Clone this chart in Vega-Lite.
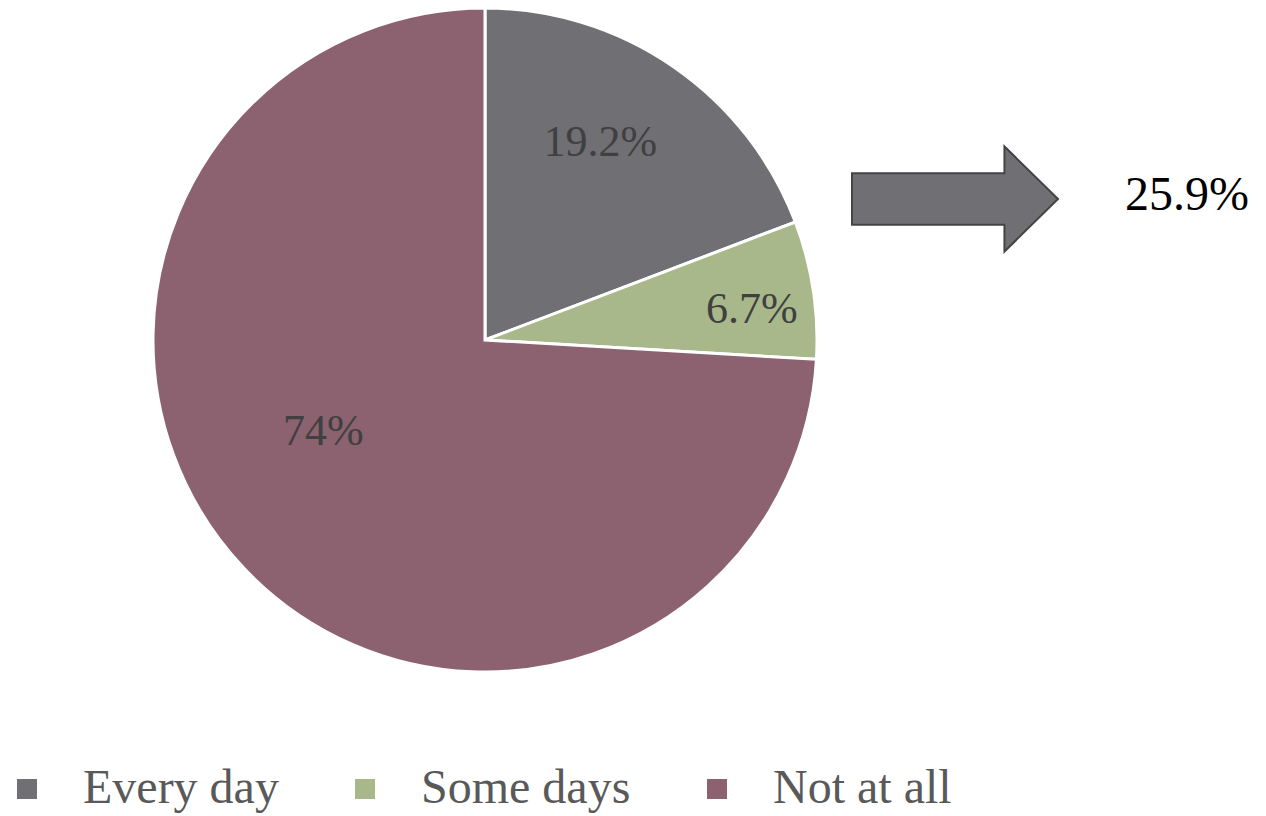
{
  "$schema": "https://vega.github.io/schema/vega-lite/v6.json",
  "width": 970,
  "height": 680,
  "padding": 0,
  "background": "white",
  "config": {"view": {"stroke": null}, "font": "Liberation Serif"},
  "data": {"values": [
    {"status": "Every day", "share": 0.192, "rank": 1},
    {"status": "Some days", "share": 0.067, "rank": 2},
    {"status": "Not at all", "share": 0.74, "rank": 3}
  ]},
  "layer": [
    {
      "mark": {"type": "arc", "radius": 332, "stroke": "white", "strokeWidth": 3},
      "encoding": {
        "theta": {"field": "share", "type": "quantitative", "stack": true},
        "order": {"field": "rank", "type": "quantitative"},
        "color": {
          "field": "status", "type": "nominal",
          "scale": {"domain": ["Every day", "Some days", "Not at all"], "range": ["#706f74", "#a8b88b", "#8c6271"]},
          "legend": {
            "orient": "none", "legendX": 3, "legendY": 765, "direction": "horizontal", "title": null,
            "symbolType": "square", "symbolSize": 400, "symbolStrokeWidth": 0, "symbolOpacity": 1,
            "labelFontSize": 48, "labelFont": "Liberation Serif", "labelColor": "#595959",
            "labelOffset": 32, "columnPadding": 62, "labelLimit": 0
          }
        }
      }
    },
    {
      "mark": {"type": "text", "radius": 228, "dx": -14, "dy": -9, "fontSize": 44, "fill": "#404040", "baseline": "middle", "align": "center"},
      "encoding": {
        "theta": {"field": "share", "type": "quantitative", "stack": true},
        "order": {"field": "rank", "type": "quantitative"},
        "text": {"condition": {"test": "datum.status === 'Every day'", "field": "share", "type": "quantitative", "format": ".3~%"}, "value": ""}
      }
    },
    {
      "mark": {"type": "text", "radius": 270, "dx": 0, "dy": 11, "fontSize": 44, "fill": "#404040", "baseline": "middle", "align": "center"},
      "encoding": {
        "theta": {"field": "share", "type": "quantitative", "stack": true},
        "order": {"field": "rank", "type": "quantitative"},
        "text": {"condition": {"test": "datum.status === 'Some days'", "field": "share", "type": "quantitative", "format": ".3~%"}, "value": ""}
      }
    },
    {
      "mark": {"type": "text", "radius": 185, "dx": -27, "dy": -35, "fontSize": 44, "fill": "#404040", "baseline": "middle", "align": "center"},
      "encoding": {
        "theta": {"field": "share", "type": "quantitative", "stack": true},
        "order": {"field": "rank", "type": "quantitative"},
        "text": {"condition": {"test": "datum.status === 'Not at all'", "field": "share", "type": "quantitative", "format": ".3~%"}, "value": ""}
      }
    },
    {
      "transform": [
        {"filter": "datum.status !== 'Not at all'"},
        {"aggregate": [{"op": "sum", "field": "share", "as": "total"}]}
      ],
      "layer": [
        {
          "mark": {"type": "point", "shape": "M -1 -0.25 L 0.48 -0.25 L 0.48 -0.51 L 1 0 L 0.48 0.51 L 0.48 0.25 L -1 0.25 Z", "size": 42436, "filled": true, "fill": "#706f74", "stroke": "#444444", "strokeWidth": 2, "opacity": 1, "xOffset": 470, "yOffset": -141},
          "encoding": {}
        },
        {
          "mark": {"type": "text", "xOffset": 702, "yOffset": -144, "fontSize": 48, "fill": "black", "baseline": "middle", "align": "center"},
          "encoding": {"text": {"field": "total", "type": "quantitative", "format": ".3~%"}}
        }
      ]
    }
  ]
}
